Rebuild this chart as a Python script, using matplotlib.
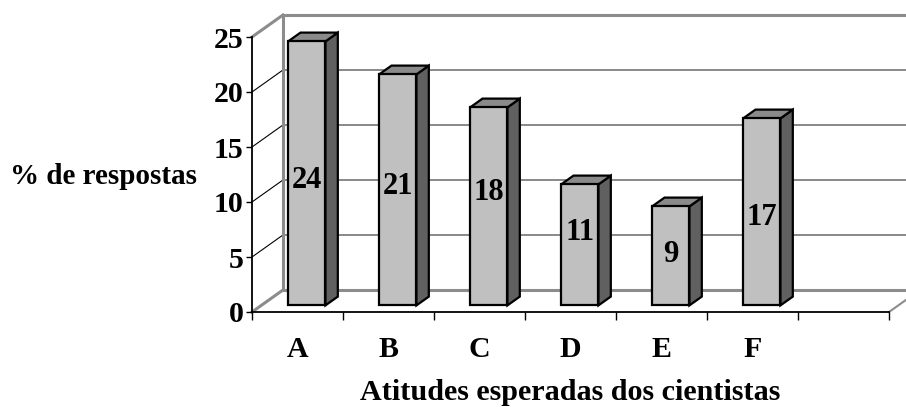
import matplotlib.pyplot as plt
from matplotlib.patches import Polygon

plt.rcParams['font.family'] = ['Liberation Serif', 'DejaVu Serif']
plt.rcParams['font.weight'] = 'bold'

categorias = ['A', 'B', 'C', 'D', 'E', 'F']
respostas = [24, 21, 18, 11, 9, 17]
y_ticks = [0, 5, 10, 15, 20, 25]
n_slots = 7  # one empty slot after F

# 3D look: depth shift of the back wall in data units
sx, sy = 0.34, 2.0
d0, d1 = 0.30, 0.70
half_w = 0.205
# small nudges of the value labels (value units)
label_shift = [-0.6, 0.3, 1.3, 1.1, 0.1, -0.5]

fig = plt.figure(figsize=(9.06, 4.07), dpi=100)
ax = fig.add_axes([252 / 906, 1 - 312 / 407, (889 - 252) / 906, (312 - 37) / 407])
ax.set_xlim(0, n_slots)
ax.set_ylim(0, 25)

wall = '#8c8c8c'
# back wall grid
for y in y_ticks[1:]:
    lw, col = (2.2, wall) if y == y_ticks[-1] else (1.3, '#808080')
    ax.plot([sx, n_slots + sx], [y + sy, y + sy], color=col, lw=lw, clip_on=False, zorder=1)
# left wall diagonals
for y in y_ticks:
    if y in (0, y_ticks[-1]):
        ax.plot([0, sx], [y, y + sy], color=wall, lw=2.2, clip_on=False, zorder=1)
    else:
        ax.plot([0, sx], [y, y + sy], color='black', lw=0.8, clip_on=False, zorder=1)
ax.plot([sx, sx], [sy, y_ticks[-1] + sy], color=wall, lw=2.2, clip_on=False, zorder=1)
# floor
ax.plot([sx, n_slots + sx], [sy, sy], color=wall, lw=2.2, clip_on=False, zorder=1)
ax.plot([n_slots, n_slots + sx], [0, sy], color=wall, lw=1.5, clip_on=False, zorder=1)

# bars: front faces via ax.bar, sides and tops as polygons
centers = [i + 0.5 for i in range(len(categorias))]
front_x = [c + sx * d0 for c in centers]
ax.bar(front_x, respostas, width=2 * half_w, bottom=sy * d0,
       color='#c0c0c0', edgecolor='black', linewidth=1.6, zorder=3)
for c, v in zip(centers, respostas):
    xl, xr = c - half_w, c + half_w
    side = [(xr + sx * d0, sy * d0), (xr + sx * d1, sy * d1),
            (xr + sx * d1, v + sy * d1), (xr + sx * d0, v + sy * d0)]
    top = [(xl + sx * d0, v + sy * d0), (xr + sx * d0, v + sy * d0),
           (xr + sx * d1, v + sy * d1), (xl + sx * d1, v + sy * d1)]
    ax.add_patch(Polygon(side, closed=True, facecolor='#606060', edgecolor='black',
                         linewidth=1.6, zorder=2.5, clip_on=False))
    ax.add_patch(Polygon(top, closed=True, facecolor='#8a8a8a', edgecolor='black',
                         linewidth=1.6, zorder=2.5, clip_on=False))

for fx, v, s in zip(front_x, respostas, label_shift):
    ax.text(fx, sy * d0 + v / 2 + s, str(v), ha='center', va='center',
            fontsize=22, fontweight='bold', zorder=5)

# axes
for side_name in ['top', 'right']:
    ax.spines[side_name].set_visible(False)
ax.spines['left'].set_linewidth(1.3)
ax.spines['bottom'].set_linewidth(1.3)
ax.set_yticks(y_ticks)
ax.tick_params(axis='y', direction='out', length=4, width=1, pad=2, labelsize=21.5)
ax.set_xticks(range(n_slots + 1))
ax.set_xticklabels([])
ax.set_xticks(centers, minor=True)
ax.set_xticklabels(categorias, minor=True)
ax.tick_params(axis='x', which='major', direction='out', length=6, width=1)
ax.tick_params(axis='x', which='minor', length=0, pad=17, labelsize=21.5)
ax.patch.set_visible(False)

fig.text(10 / 906, 1 - 177 / 407, '% de respostas', ha='left', va='center',
         fontsize=21, fontweight='bold')
fig.text(570 / 906, 1 - 392 / 407, 'Atitudes esperadas dos cientistas',
         ha='center', va='center', fontsize=21.7, fontweight='bold')

fig.savefig('out.png', dpi=100)
